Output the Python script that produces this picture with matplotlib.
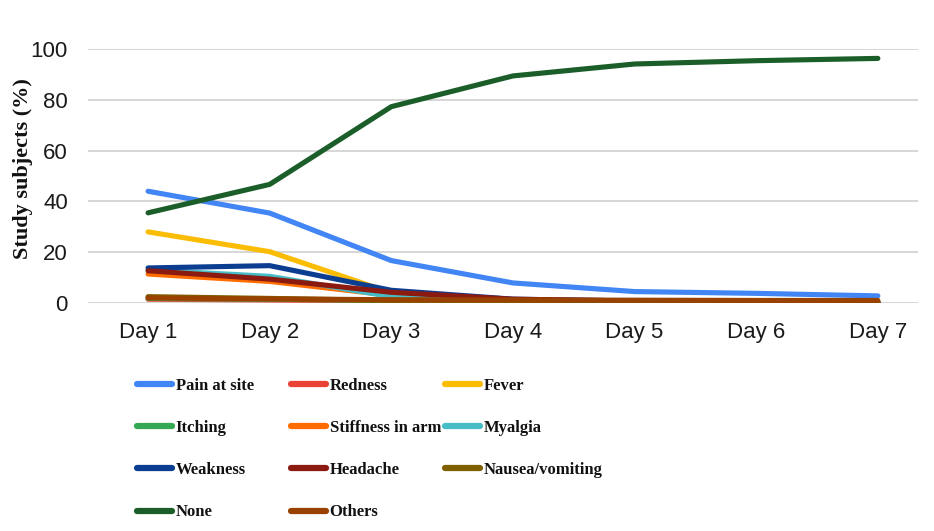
import matplotlib
matplotlib.use("Agg")
import matplotlib.pyplot as plt
from matplotlib.lines import Line2D

days = ["Day 1", "Day 2", "Day 3", "Day 4", "Day 5", "Day 6", "Day 7"]

pain_at_site = [44.0, 35.4, 16.7, 7.9, 4.5, 3.8, 2.8]
redness = [1.5, 1.2, 0.8, 0.4, 0.2, 0.1, 0.1]
fever = [28.0, 20.2, 4.0, 1.0, 0.5, 0.3, 0.2]
itching = [1.8, 1.5, 1.0, 0.5, 0.3, 0.2, 0.1]
stiffness_in_arm = [11.4, 8.5, 3.0, 1.0, 0.5, 0.3, 0.2]
myalgia = [13.0, 10.5, 2.5, 1.0, 0.5, 0.3, 0.2]
weakness = [13.8, 14.7, 5.0, 1.5, 0.8, 0.5, 0.3]
headache = [12.7, 9.4, 4.2, 1.5, 0.8, 0.5, 0.3]
nausea_vomiting = [2.5, 1.8, 1.0, 0.6, 0.4, 0.3, 0.2]
none = [35.5, 46.7, 77.3, 89.4, 94.1, 95.4, 96.3]
others = [2.0, 1.6, 1.3, 1.2, 1.1, 1.0, 1.0]

series = [
    ("Pain at site", pain_at_site, "#4285f4"),
    ("Redness", redness, "#ea4335"),
    ("Fever", fever, "#fbbc04"),
    ("Itching", itching, "#34a853"),
    ("Stiffness in arm", stiffness_in_arm, "#ff6d01"),
    ("Myalgia", myalgia, "#46bdc6"),
    ("Weakness", weakness, "#0b3d91"),
    ("Headache", headache, "#8b1a10"),
    ("Nausea/vomiting", nausea_vomiting, "#7f6000"),
    ("None", none, "#1c5e2a"),
    ("Others", others, "#994200"),
]

W, H = 934, 531
fig = plt.figure(figsize=(W / 100, H / 100), dpi=100)
fig.patch.set_facecolor("white")

# axes box in pixel terms: x 88..918, y (top) 49..303
ax = fig.add_axes([88 / W, 1 - 303 / H, (918 - 88) / W, (303 - 49) / H])
x = list(range(len(days)))

handles = {}
for name, vals, col in series:
    (ln,) = ax.plot(x, vals, color=col, lw=3.7, solid_capstyle="round",
                    solid_joinstyle="round", zorder=3)
    handles[name] = ln

ax.set_xlim(-0.494, 6.33)
ax.set_ylim(0, 100)
ax.set_yticks([0, 20, 40, 60, 80, 100])
ax.set_xticks(x)
ax.set_xticklabels(days)
ax.yaxis.grid(True, color="#d3d3d3", lw=1.3, zorder=0)
ax.xaxis.grid(False)
for s in ax.spines.values():
    s.set_visible(False)
ax.tick_params(axis="both", length=0, labelsize=16, colors="#1a1a1a",
               labelfontfamily="Liberation Sans")
ax.tick_params(axis="y", pad=14.4)
ax.tick_params(axis="x", pad=14)

fig.text(23 / W, 1 - 169 / H, "Study subjects (%)", rotation=90,
         ha="center", va="center", fontsize=16, fontweight="bold",
         family="Liberation Serif", color="#111111")

# legend: three columns, each its own legend for even column placement
legend_cols = [
    ["Pain at site", "Itching", "Weakness", "None"],
    ["Redness", "Stiffness in arm", "Headache", "Others"],
    ["Fever", "Myalgia", "Nausea/vomiting"],
]
col_x = [137, 291, 445]
for cx, names in zip(col_x, legend_cols):
    hs = [Line2D([], [], color=handles[n].get_color(), lw=4.5,
                 solid_capstyle="round") for n in names]
    lg = fig.legend(hs, names, loc="upper left",
                    bbox_to_anchor=(cx / W, 1 - 377.5 / H),
                    frameon=False, borderpad=0, borderaxespad=0,
                    handlelength=2.1, handletextpad=0.22,
                    labelspacing=1.58,
                    prop={"family": "Liberation Serif", "weight": "bold",
                          "size": 12})
    for t in lg.get_texts():
        t.set_color("#111111")

fig.savefig("out.png", dpi=100, facecolor="white")
